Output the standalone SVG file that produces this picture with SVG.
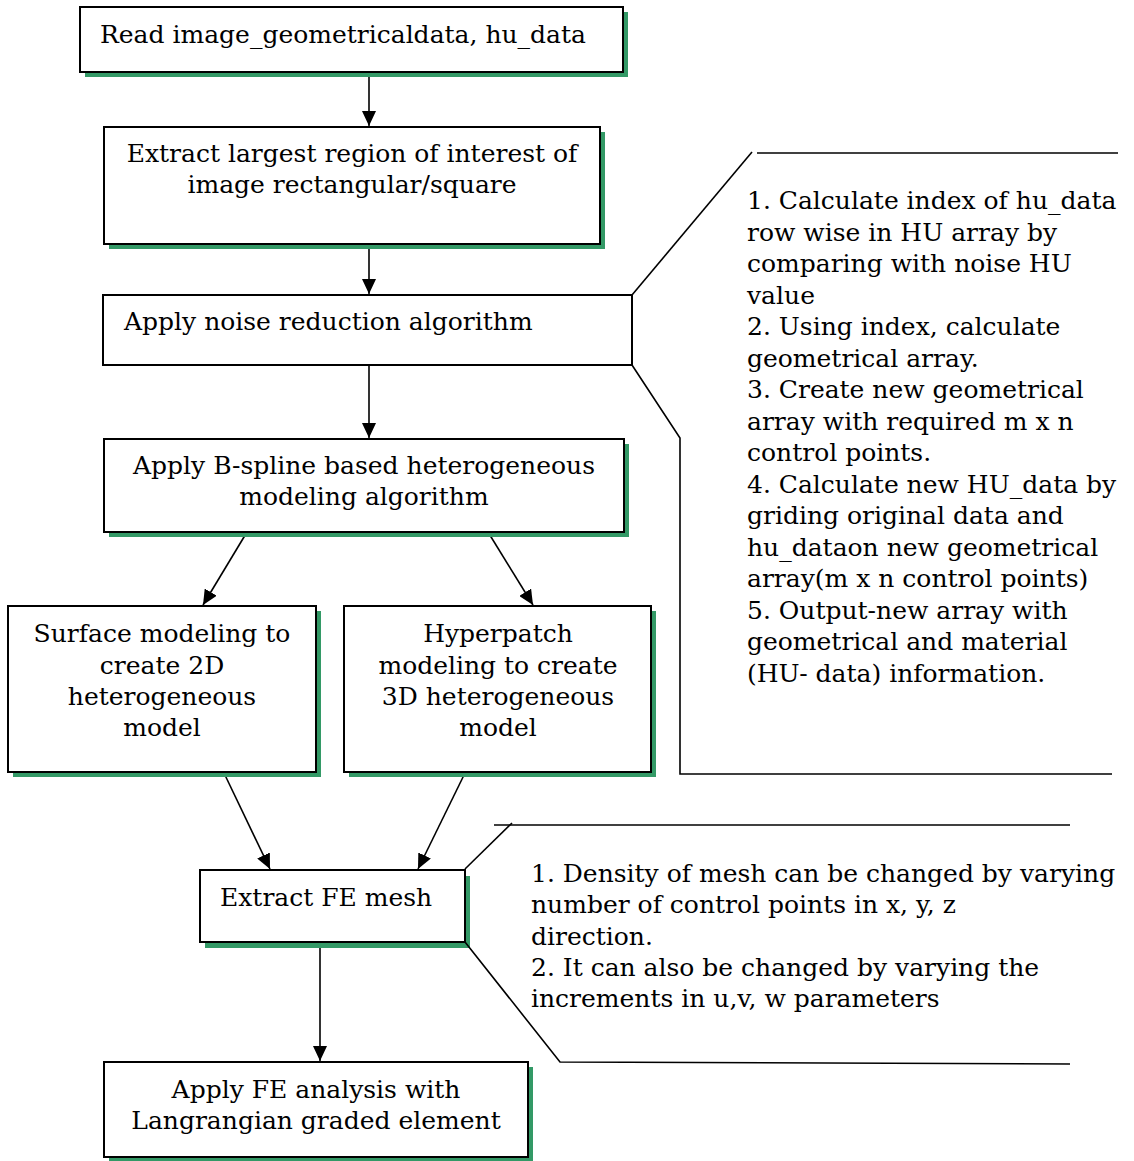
<svg xmlns="http://www.w3.org/2000/svg" width="1134" height="1161" viewBox="0 0 1134 1161">
<defs>
<marker id="ah" markerWidth="14" markerHeight="14" refX="15" refY="7" orient="auto" markerUnits="userSpaceOnUse">
<path d="M0,0 L15,7 L0,14 Z" fill="#000"/>
</marker>
</defs>
<style>
.box{fill:#fff;stroke:#000;stroke-width:2}
.sh{fill:#339966}
text{font-family:"DejaVu Serif","Liberation Serif",serif;font-size:25px;fill:#000}
.c{text-anchor:middle}
.ln{fill:none;stroke:#000;stroke-width:1.6}
.ar{fill:none;stroke:#000;stroke-width:1.6;marker-end:url(#ah)}
</style>
<rect width="1134" height="1161" fill="#fff"/>
<g id="connectors">
<line class="ar" x1="369" y1="72" x2="369" y2="126"/>
<line class="ar" x1="369" y1="244" x2="369" y2="294"/>
<line class="ar" x1="369" y1="365" x2="369" y2="438"/>
<line class="ar" x1="247" y1="532" x2="203" y2="605"/>
<line class="ar" x1="488" y1="532" x2="533" y2="605"/>
<line class="ar" x1="224" y1="773" x2="270" y2="869"/>
<line class="ar" x1="465" y1="773" x2="418" y2="869"/>
<line class="ar" x1="320" y1="942" x2="320" y2="1061"/>
</g>
<g id="n1">
<rect class="sh" x="85" y="12" width="543" height="65"/>
<rect class="box" x="80" y="7" width="543" height="65"/>
<text x="100" y="43">Read image_geometricaldata, hu_data</text>
</g>
<g id="n2">
<rect class="sh" x="109" y="132" width="496" height="117"/>
<rect class="box" x="104" y="127" width="496" height="117"/>
<text class="c" x="352" y="162">Extract largest region of interest of</text>
<text class="c" x="352" y="193">image rectangular/square</text>
</g>
<g id="n3">
<rect class="box" x="103" y="295" width="529" height="70"/>
<text x="124" y="330">Apply noise reduction algorithm</text>
</g>
<g id="n4">
<rect class="sh" x="109" y="444" width="520" height="93"/>
<rect class="box" x="104" y="439" width="520" height="93"/>
<text class="c" x="364" y="474">Apply B-spline based heterogeneous</text>
<text class="c" x="364" y="505">modeling algorithm</text>
</g>
<g id="n5">
<rect class="sh" x="13" y="611" width="308" height="166"/>
<rect class="box" x="8" y="606" width="308" height="166"/>
<text class="c" x="162" y="642">Surface modeling to</text>
<text class="c" x="162" y="674">create 2D</text>
<text class="c" x="162" y="705">heterogeneous</text>
<text class="c" x="162" y="736">model</text>
</g>
<g id="n6">
<rect class="sh" x="349" y="611" width="307" height="166"/>
<rect class="box" x="344" y="606" width="307" height="166"/>
<text class="c" x="498" y="642">Hyperpatch</text>
<text class="c" x="498" y="674">modeling to create</text>
<text class="c" x="498" y="705">3D heterogeneous</text>
<text class="c" x="498" y="736">model</text>
</g>
<g id="n7">
<rect class="sh" x="205" y="876" width="265" height="72"/>
<rect class="box" x="200" y="870" width="265" height="72"/>
<text x="220" y="906">Extract FE mesh</text>
</g>
<g id="n8">
<rect class="sh" x="109" y="1067" width="424" height="95"/>
<rect class="box" x="104" y="1062" width="424" height="95"/>
<text class="c" x="316" y="1098">Apply FE analysis with</text>
<text class="c" x="316" y="1129">Langrangian graded element</text>
</g>
<g id="callout1">
<polyline class="ln" points="632,295 752,152"/>
<line class="ln" x1="757" y1="153" x2="1118" y2="153"/>
<polyline class="ln" points="632,365 680,438 680,774 1112,774"/>
<text x="747" y="209">1. Calculate index of hu_data</text>
<text x="747" y="241">row wise in HU array by</text>
<text x="747" y="272">comparing with noise HU</text>
<text x="747" y="304">value</text>
<text x="747" y="335">2. Using index, calculate</text>
<text x="747" y="367">geometrical array.</text>
<text x="747" y="398">3. Create new geometrical</text>
<text x="747" y="430">array with required m x n</text>
<text x="747" y="461">control  points.</text>
<text x="747" y="493">4. Calculate new HU_data by</text>
<text x="747" y="524">griding original data and</text>
<text x="747" y="556">hu_dataon new geometrical</text>
<text x="747" y="587">array(m x n control points)</text>
<text x="747" y="619">5. Output-new array with</text>
<text x="747" y="650">geometrical and material</text>
<text x="747" y="682">(HU- data) information.</text>
</g>
<g id="callout2">
<polyline class="ln" points="465,869 512,823"/>
<line class="ln" x1="494" y1="825" x2="1070" y2="825"/>
<polyline class="ln" points="465,942 560,1062 1070,1064"/>
<text x="531" y="882">1. Density of mesh can be changed by varying</text>
<text x="531" y="913">number of control points in x, y, z</text>
<text x="531" y="945">direction.</text>
<text x="531" y="976">2. It can also be changed by varying the</text>
<text x="531" y="1007">increments in u,v,  w parameters</text>
</g>
</svg>
